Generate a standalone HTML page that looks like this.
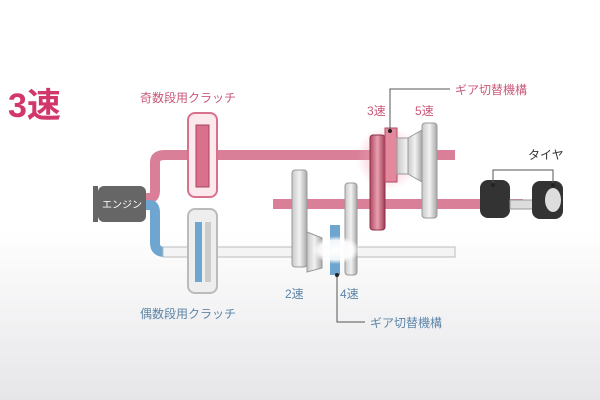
<!DOCTYPE html>
<html><head><meta charset="utf-8"><style>
html,body{margin:0;padding:0;width:600px;height:400px;overflow:hidden}
body{background:linear-gradient(#fff 0,#fff 230px,#e6e6e9 400px);font-family:"Liberation Sans","Noto Sans CJK JP",sans-serif}
</style></head><body>
<svg width="600" height="400" viewBox="0 0 600 400" xmlns="http://www.w3.org/2000/svg" font-family="Liberation Sans, Noto Sans CJK JP, sans-serif">
<defs>
<linearGradient id="gg" x1="0" x2="1"><stop offset="0" stop-color="#c8c8c8"/><stop offset="0.5" stop-color="#f2f2f2"/><stop offset="1" stop-color="#a8a8a8"/></linearGradient>
<linearGradient id="rg" x1="0" x2="1"><stop offset="0" stop-color="#b04a60"/><stop offset="0.5" stop-color="#e8a0b0"/><stop offset="1" stop-color="#a03a52"/></linearGradient>
<radialGradient id="glow"><stop offset="0" stop-color="#f3a6b8" stop-opacity="0.9"/><stop offset="1" stop-color="#f3a6b8" stop-opacity="0"/></radialGradient>
<radialGradient id="wg"><stop offset="0" stop-color="#fff"/><stop offset="0.7" stop-color="#fff" stop-opacity="0.9"/><stop offset="1" stop-color="#fff" stop-opacity="0"/></radialGradient>
</defs>
<text x="8" y="117" font-size="34" font-weight="bold" fill="#d2376b">3速</text>
<text x="140" y="102" font-size="12" fill="#c85a7a">奇数段用クラッチ</text>
<text x="140" y="318" font-size="12" fill="#5e86a8">偶数段用クラッチ</text>
<path d="M145 198 H150 Q155 198 155 190 V162 Q155 155 165 155 H455" stroke="#d97f98" stroke-width="10" fill="none"/>
<path d="M145 205 H150 Q155 205 155 213 V243 Q155 252 165 252" stroke="#6fa6cf" stroke-width="10" fill="none"/>
<rect x="163" y="247" width="292" height="10" fill="#f4f4f4" stroke="#bbb" stroke-width="1"/>
<rect x="273" y="199" width="250" height="10" fill="#d97f98"/>
<rect x="93" y="186" width="5" height="36" fill="#666"/>
<rect x="98" y="186" width="48" height="36" rx="6" fill="#666"/>
<text x="102" y="208" font-size="10" fill="#fff">エンジン</text>
<rect x="188" y="113" width="29" height="84" rx="7" fill="#fbe9ee" stroke="#d9718d" stroke-width="2"/>
<rect x="196" y="125" width="13" height="62" fill="#d9718d" stroke="#a84560"/>
<rect x="188" y="209" width="29" height="84" rx="7" fill="#eee" stroke="#bbb" stroke-width="2"/>
<rect x="195" y="222" width="7" height="60" fill="#6fa6cf"/>
<rect x="205" y="222" width="6" height="60" fill="#ccc"/>
<circle cx="388" cy="158" r="32" fill="url(#glow)"/>
<rect x="292" y="170" width="15" height="97" rx="3" fill="url(#gg)" stroke="#999"/>
<path d="M307 232 L322 238 V268 L307 272 Z" fill="url(#gg)" stroke="#999"/>
<rect x="345" y="183" width="12" height="92" rx="3" fill="url(#gg)" stroke="#999"/>
<rect x="330" y="225" width="10" height="50" fill="#6fa6cf"/>
<ellipse cx="336" cy="250" rx="24" ry="14" fill="url(#wg)"/>
<rect x="370" y="135" width="15" height="95" rx="3" fill="url(#rg)" stroke="#8a3048"/>
<rect x="385" y="128" width="12" height="54" fill="#e4889e" stroke="#b04a60"/>
<rect x="397" y="138" width="20" height="36" fill="url(#gg)" stroke="#999"/>
<path d="M408 138 L422 130 V182 L408 174 Z" fill="url(#gg)" stroke="#999"/>
<rect x="422" y="123" width="15" height="95" rx="3" fill="url(#gg)" stroke="#999"/>
<rect x="480" y="180" width="30" height="38" rx="8" fill="#333"/>
<rect x="510" y="200" width="25" height="9" fill="#ddd" stroke="#999"/>
<rect x="532" y="181" width="31" height="38" rx="8" fill="#333"/>
<ellipse cx="553" cy="200" rx="8" ry="12" fill="#ddd"/>
<text x="367" y="115" font-size="12" fill="#c85a7a">3速</text>
<text x="415" y="115" font-size="12" fill="#c85a7a">5速</text>
<path d="M450 89 H390 V131" stroke="#555" fill="none"/><circle cx="390" cy="131" r="2" fill="#222"/>
<text x="455" y="94" font-size="12" fill="#c85a7a">ギア切替機構</text>
<text x="528" y="159" font-size="12" fill="#333">タイヤ</text>
<path d="M493 185 V170 H553 V185" stroke="#555" fill="none"/>
<circle cx="493" cy="185" r="2" fill="#222"/><circle cx="553" cy="185" r="2" fill="#222"/>
<text x="285" y="298" font-size="12" fill="#5e86a8">2速</text>
<text x="340" y="298" font-size="12" fill="#5e86a8">4速</text>
<path d="M337 275 V322 H365" stroke="#555" fill="none"/><circle cx="337" cy="275" r="2" fill="#222"/>
<text x="370" y="327" font-size="12" fill="#5e86a8">ギア切替機構</text>
</svg>
</body></html>
